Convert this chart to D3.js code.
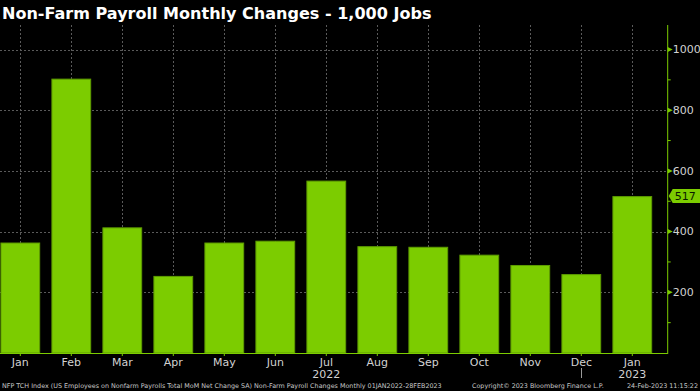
<!DOCTYPE html>
<html>
<head>
<meta charset="utf-8">
<script src="https://cdn.jsdelivr.net/npm/d3@7"></script>
<style>
  html, body { margin: 0; padding: 0; background: #000; }
  svg { display: block; }
</style>
</head>
<body>
<div id="chart"></div>
<script>
const months = ["Jan", "Feb", "Mar", "Apr", "May", "Jun", "Jul", "Aug", "Sep", "Oct", "Nov", "Dec", "Jan"];
const years = ["2022", "2022", "2022", "2022", "2022", "2022", "2022", "2022", "2022", "2022", "2022", "2022", "2023"];
const payrolls = [364, 904, 414, 254, 364, 370, 568, 352, 350, 324, 290, 260, 517];
const yTicks = [200, 400, 600, 800, 1000];
const yMinorTicks = [100, 300, 500, 700, 900, 1100];
const yearLabels = [{ label: "2022", at: 6 }, { label: "2023", at: 12 }];
const lastValue = 517;

const width = 700,
  height = 391,
  margin = { top: 25, right: 33, bottom: 38, left: 0 },
  green = "#7ccc00",
  textColor = "#d2d2d2";

const data = payrolls.map((v, i) => ({ key: i, month: months[i], year: years[i], value: v }));

const svg = d3.select("#chart")
  .append("svg")
  .attr("width", width)
  .attr("height", height)
  .style("background", "#000");

const axisX = width - margin.right + 0.7;
const baseY = height - margin.bottom;

const xScale = d3.scaleBand()
  .domain(data.map(d => d.key))
  .range([-5.2, -5.2 + 51 * data.length])
  .paddingInner(0.22)
  .paddingOuter(0.11);

const yScale = d3.scaleLinear()
  .domain([0, 1000])
  .range([baseY, 49.5]);

const cx = k => xScale(k) + xScale.bandwidth() / 2;

// grid
svg.append("g")
  .selectAll("line")
  .data(yTicks)
  .join("line")
  .attr("x1", 0)
  .attr("x2", axisX)
  .attr("y1", d => Math.round(yScale(d)) + 0.5)
  .attr("y2", d => Math.round(yScale(d)) + 0.5)
  .attr("stroke", "#5a5a5a")
  .attr("stroke-dasharray", "2,2");

svg.append("g")
  .selectAll("line")
  .data(data)
  .join("line")
  .attr("x1", d => Math.round(cx(d.key)) + 0.5)
  .attr("x2", d => Math.round(cx(d.key)) + 0.5)
  .attr("y1", margin.top)
  .attr("y2", baseY)
  .attr("stroke", "#5a5a5a")
  .attr("stroke-dasharray", "2,2");

// bars
svg.append("g")
  .selectAll("rect")
  .data(data)
  .join("rect")
  .attr("x", d => xScale(d.key) + 0.5)
  .attr("y", d => yScale(d.value) + 0.5)
  .attr("width", xScale.bandwidth() - 1)
  .attr("height", d => baseY - yScale(d.value) - 0.5)
  .attr("fill", green)
  .attr("stroke", "#5e9c00")
  .attr("stroke-width", 1);

// bottom axis
const xAxis = d3.axisBottom(xScale)
  .tickFormat(k => months[k])
  .tickSize(3)
  .tickPadding(2);

const gx = svg.append("g")
  .attr("transform", `translate(0,${baseY})`)
  .call(xAxis);
gx.select(".domain").remove();
gx.append("line")
  .attr("x1", 0).attr("x2", axisX)
  .attr("y1", 0.5).attr("y2", 0.5)
  .attr("stroke", green);
gx.selectAll(".tick line").attr("stroke", green);
gx.selectAll(".tick text")
  .attr("fill", textColor)
  .style("font-family", "Tahoma, 'DejaVu Sans', sans-serif")
  .style("font-size", "11px");

// year separator
svg.append("line")
  .attr("x1", Math.round(cx(11)) + 0.5)
  .attr("x2", Math.round(cx(11)) + 0.5)
  .attr("y1", baseY + 15)
  .attr("y2", baseY + 25)
  .attr("stroke", "#9a9a9a");

svg.append("g")
  .selectAll("text")
  .data(yearLabels)
  .join("text")
  .attr("x", d => cx(d.at))
  .attr("y", baseY + 25)
  .attr("text-anchor", "middle")
  .attr("fill", textColor)
  .style("font-family", "Tahoma, 'DejaVu Sans', sans-serif")
  .style("font-size", "11px")
  .text(d => d.label);

// right axis
const gy = svg.append("g")
  .attr("transform", `translate(${axisX},0)`);

gy.append("line")
  .attr("x1", 0).attr("x2", 0)
  .attr("y1", margin.top).attr("y2", baseY + 1)
  .attr("stroke", green);

gy.selectAll(".minor")
  .data(yMinorTicks.filter(d => yScale(d) > margin.top))
  .join("line")
  .attr("class", "minor")
  .attr("x1", 0).attr("x2", 3)
  .attr("y1", d => yScale(d)).attr("y2", d => yScale(d))
  .attr("stroke", green);

gy.selectAll(".major")
  .data(yTicks)
  .join("path")
  .attr("class", "major")
  .attr("d", d => `M0,${yScale(d) - 2.5}L5,${yScale(d)}L0,${yScale(d) + 2.5}Z`)
  .attr("fill", green);

gy.selectAll(".label")
  .data(yTicks)
  .join("text")
  .attr("class", "label")
  .attr("x", 5)
  .attr("y", d => yScale(d))
  .attr("dy", "0.35em")
  .attr("fill", textColor)
  .style("font-family", "Tahoma, 'DejaVu Sans', sans-serif")
  .style("font-size", "11px")
  .text(d => d);

// last value tag
const ly = yScale(lastValue);
gy.append("path")
  .attr("d", `M1,${ly}L5,${ly - 7}H${width - axisX}V${ly + 7}H5Z`)
  .attr("fill", green);
gy.append("text")
  .attr("x", 7)
  .attr("y", ly)
  .attr("dy", "0.36em")
  .attr("fill", "#0b1a00")
  .style("font-family", "Tahoma, 'DejaVu Sans', sans-serif")
  .style("font-size", "11px")
  .text(lastValue);

// title
const title = svg.append("text")
  .attr("x", 2)
  .attr("y", 19)
  .attr("fill", "#ffffff")
  .style("font-family", "Verdana, 'DejaVu Sans', sans-serif")
  .style("font-weight", "bold")
  .style("font-size", "17px")
  .text("Non-Farm Payroll Monthly Changes - 1,000 Jobs");
const tw = title.node().getComputedTextLength();
title.style("font-size", (17 * 430 / tw) + "px");

// footer
const footer = svg.append("g")
  .attr("fill", "#c8c8c8")
  .style("font-family", "Tahoma, 'DejaVu Sans', sans-serif")
  .style("font-size", "6.4px");
footer.append("text").attr("x", 2).attr("y", 388)
  .text("NFP TCH Index (US Employees on Nonfarm Payrolls Total MoM Net Change SA) Non-Farm Payroll Changes  Monthly 01JAN2022-28FEB2023");
footer.append("text").attr("x", 472).attr("y", 388)
  .text("Copyright\u00a9 2023 Bloomberg Finance L.P.");
footer.append("text").attr("x", 698).attr("y", 388).attr("text-anchor", "end")
  .text("24-Feb-2023 11:15:22");
</script>
</body>
</html>
